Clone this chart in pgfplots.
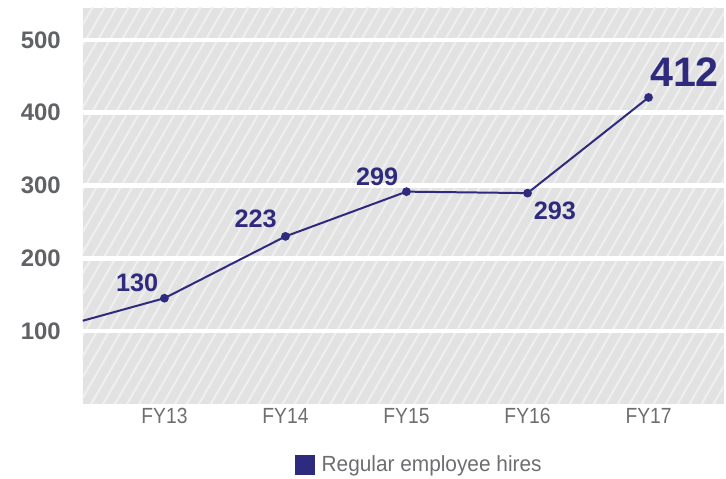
\documentclass[border=0pt]{standalone}
\usepackage{fontspec}
\setmainfont{Liberation Sans}
\newfontfamily\narrow{Liberation Sans}[FakeStretch=0.88]
\newfontfamily\legfont{Liberation Sans}[FakeStretch=0.95]
\usepackage{pgfplots}
\pgfplotsset{compat=1.18}
\usetikzlibrary{patterns.meta}
\definecolor{navy}{HTML}{2E2A7E}
\definecolor{tickgrey}{HTML}{6D6E71}
\definecolor{ygrey}{HTML}{616266}
\definecolor{bggrey}{HTML}{E2E2E2}
\definecolor{stripe}{HTML}{EFEFEF}
\begin{document}
\begin{tikzpicture}
\begin{axis}[
  scale only axis, width=482.25pt, height=297.75pt,
  xmin=0.325, xmax=5.62, ymin=0, ymax=544,
  clip=false,
  axis line style={draw=none}, major tick length=0pt,
  xtick={1,2,3,4,5}, xticklabels={FY13,FY14,FY15,FY16,FY17},
  ytick={100,200,300,400,500}, yticklabels={100,200,300,400,500},
  ymajorgrids, grid style={white, line width=3.6pt},
  axis background/.style={fill=bggrey,
    postaction={pattern={Lines[angle=60,distance=7.8pt,line width=1.6pt]}, pattern color=stripe}},
  yticklabel style={font=\bfseries\fontsize{18}{18}\selectfont, text=ygrey, xshift=-13pt},
  xticklabel style={font=\narrow\fontsize{16.5}{16.5}\selectfont, text=tickgrey},
  legend style={at={(0.526,-0.154)}, anchor=center, draw=none, fill=none,
    font=\legfont\fontsize{16.5}{16.5}\selectfont, text=tickgrey},
  legend image code/.code={\fill[navy] (0pt,-6.75pt) rectangle (13.5pt,6.75pt);
    \path[draw=none, fill=none] (0pt,0pt) -- (17pt,0pt);},
]
\addplot[navy, line width=1.5pt, mark=*, mark size=2.5pt, mark indices={2,3,4,5,6}]
  coordinates {(0.325,114) (1,145) (2,230) (3,291.5) (4,289.5) (5,421)};
\addlegendentry{Regular employee hires}
\begin{scope}[every node/.style={inner sep=0pt, text=navy, font=\bfseries\fontsize{19}{19}\selectfont}]
\node[anchor=south east, xshift=-4.5pt, yshift=5pt] at (axis cs:1,145) {130};
\node[anchor=south east, xshift=-6.4pt, yshift=6pt] at (axis cs:2,230) {223};
\node[anchor=south east, xshift=-6pt, yshift=4.5pt] at (axis cs:3,291.5) {299};
\node[anchor=north west, xshift=4.5pt, yshift=-6.75pt] at (axis cs:4,289.5) {293};
\node[anchor=south west, xshift=1pt, yshift=8pt, font=\bfseries\fontsize{31}{31}\selectfont] at (axis cs:5,421) {412};
\end{scope}
\path (rel axis cs:-0.1291,-0.1839) rectangle (rel axis cs:1,1.0202);
\end{axis}
\end{tikzpicture}
\end{document}
